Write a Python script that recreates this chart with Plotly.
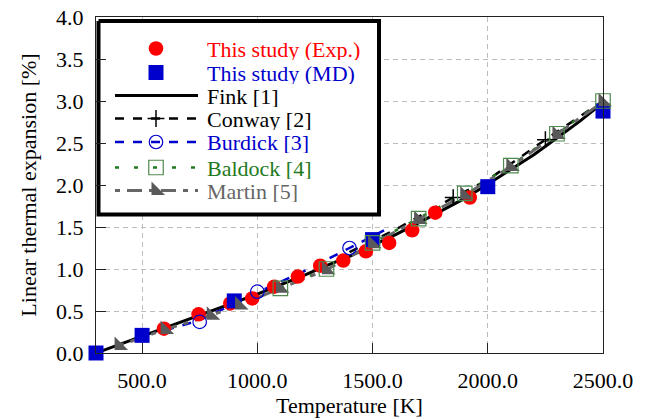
import plotly.graph_objects as go

# ---------------- data ----------------
T_exp = [595, 745, 883, 978, 1073, 1176, 1273, 1373, 1471, 1572, 1672, 1772, 1922]
exp_vals = [0.29, 0.46, 0.59, 0.65, 0.79, 0.91, 1.04, 1.10, 1.21, 1.31, 1.46, 1.67, 1.85]

T_md = [300, 500, 900, 1500, 2000, 2500]
md_vals = [0.00, 0.21, 0.62, 1.35, 1.98, 2.88]

T_fink = [300, 400, 500, 600, 700, 800, 900, 1000, 1100, 1200, 1300, 1400,
          1500, 1600, 1700, 1800, 1900, 2000, 2100, 2200, 2300, 2400, 2500]
fink_vals = [0.00, 0.10, 0.20, 0.30, 0.40, 0.50, 0.60, 0.70, 0.81, 0.92, 1.04, 1.15,
             1.28, 1.41, 1.55, 1.69, 1.84, 2.01, 2.18, 2.36, 2.56, 2.76, 2.98]

T_conway_line = [1400, 1600, 1850, 2000, 2250, 2500]
conway_line = [1.20, 1.47, 1.85, 2.06, 2.54, 3.00]
T_conway_pts = [1850, 2250]
conway_pts = [1.85, 2.54]

T_burdick_line = [600, 750, 1000, 1200, 1400, 1550]
burdick_line = [0.27, 0.39, 0.72, 0.97, 1.25, 1.46]
T_burdick_pts = [750, 1000, 1400]
burdick_pts = [0.37, 0.73, 1.25]

T_baldock = [1100, 1300, 1500, 1700, 1900, 2100, 2300, 2500]
baldock_vals = [0.77, 1.00, 1.31, 1.60, 1.90, 2.23, 2.61, 3.00]

T_martin = [400, 600, 800, 923, 1100, 1300, 1500, 1700, 1900, 2100, 2300, 2500]
martin_vals = [0.09, 0.28, 0.45, 0.57, 0.77, 0.99, 1.30, 1.59, 1.88, 2.22, 2.60, 2.99]

legend_labels = ["This study (Exp.)", "This study (MD)", "Fink [1]", "Conway [2]",
                 "Burdick [3]", "Baldock [4]", "Martin [5]"]

# ---------------- styles ----------------
FONT = "Liberation Serif"
RED = "#ff0000"
BLUE = "#0000cc"
GREEN = "#217a21"
GRAY = "#666666"
TRI = "#595959"

fig = go.Figure()

# lines
fig.add_trace(go.Scatter(x=T_fink, y=fink_vals, mode="lines",
                         line=dict(color="black", width=3)))
fig.add_trace(go.Scatter(x=T_conway_line, y=conway_line, mode="lines",
                         line=dict(color="black", width=2.5, dash="9px,9px")))
fig.add_trace(go.Scatter(x=T_burdick_line, y=burdick_line, mode="lines",
                         line=dict(color=BLUE, width=2.5, dash="9px,9px")))
fig.add_trace(go.Scatter(x=T_baldock, y=baldock_vals, mode="lines",
                         line=dict(color=GREEN, width=2.5, dash="4px,12px")))
fig.add_trace(go.Scatter(x=T_martin, y=martin_vals, mode="lines",
                         line=dict(color=GRAY, width=3, dash="5px,7px,15px,7px")))

# markers
fig.add_trace(go.Scatter(x=T_exp, y=exp_vals, mode="markers", cliponaxis=False,
                         marker=dict(symbol="circle", size=14.5, color=RED)))
fig.add_trace(go.Scatter(x=T_md, y=md_vals, mode="markers", cliponaxis=False,
                         marker=dict(symbol="square", size=15, color=BLUE)))
fig.add_trace(go.Scatter(x=T_burdick_pts, y=burdick_pts, mode="markers", cliponaxis=False,
                         marker=dict(symbol="circle-open", size=13.5, color=BLUE,
                                     line=dict(width=1.2, color=BLUE))))
fig.add_trace(go.Scatter(x=T_conway_pts, y=conway_pts, mode="markers", cliponaxis=False,
                         marker=dict(symbol="cross-thin", size=12,
                                     line=dict(width=1.5, color="black"))))
fig.add_trace(go.Scatter(x=T_martin, y=martin_vals, mode="markers", cliponaxis=False,
                         marker=dict(symbol="triangle-sw", size=15, color=TRI)))
fig.add_trace(go.Scatter(x=T_baldock, y=baldock_vals, mode="markers", cliponaxis=False,
                         marker=dict(symbol="square-open", size=14.5, color="#4f8a4f",
                                     line=dict(width=1.2, color="#4f8a4f"))))

# ---------------- hand-drawn legend box (pixel overlay axes) ----------------
L = dict(x0=98.5, x1=379, y0=21, y1=214.5, lx0=115, lx1=198, mx=156, tx=206,
         rows=[48.5, 72.5, 95.5, 118.5, 142, 167.5, 190.5])
ov = dict(xaxis="x2", yaxis="y2", hoverinfo="skip", cliponaxis=False)

fig.add_trace(go.Scatter(x=[L["x0"], L["x1"], L["x1"], L["x0"], L["x0"]],
                         y=[L["y0"], L["y0"], L["y1"], L["y1"], L["y0"]],
                         mode="lines", fill="toself", fillcolor="white",
                         line=dict(color="black", width=4), **ov))

samples = [
    dict(line=None, marker=dict(symbol="circle", size=14.5, color=RED)),
    dict(line=None, marker=dict(symbol="square", size=15, color=BLUE)),
    dict(line=dict(color="black", width=3), marker=None),
    dict(line=dict(color="black", width=2.5, dash="9px,9px"),
         marker=dict(symbol="cross-thin", size=12, line=dict(width=1.5, color="black"))),
    dict(line=dict(color=BLUE, width=2.5, dash="9px,9px"),
         marker=dict(symbol="circle-open", size=13.5, color=BLUE, line=dict(width=1.2, color=BLUE))),
    dict(line=dict(color=GREEN, width=2.5, dash="4px,15px"),
         marker=dict(symbol="square-open", size=14.5, color="#4f8a4f", line=dict(width=1.2, color="#4f8a4f"))),
    dict(line=dict(color=GRAY, width=3, dash="5px,7px,15px,7px"),
         marker=dict(symbol="triangle-sw", size=15, color=TRI)),
]
text_colors = [RED, BLUE, "black", "black", BLUE, GREEN, GRAY]

annotations = []
for row, s, lab, tc in zip(L["rows"], samples, legend_labels, text_colors):
    if s["line"] is not None:
        fig.add_trace(go.Scatter(x=[L["lx0"], L["lx1"]], y=[row, row], mode="lines",
                                 line=s["line"], **ov))
    if s["marker"] is not None:
        fig.add_trace(go.Scatter(x=[L["mx"]], y=[row], mode="markers",
                                 marker=s["marker"], **ov))
    annotations.append(dict(x=L["tx"], y=row, xref="x2", yref="y2", text=lab,
                            showarrow=False, xanchor="left", yanchor="middle",
                            height=22, valign="middle", borderpad=0,
                            font=dict(family=FONT, size=22, color=tc)))

axis_common = dict(showline=True, linecolor="#222222", linewidth=1, mirror=True,
                   ticks="inside", ticklen=10, tickwidth=1, tickcolor="#222222",
                   showgrid=True, gridcolor="#bdbdbd", gridwidth=1, griddash="5px,4px",
                   zeroline=False, tickformat=".1f", automargin=False,
                   ticklabeloverflow="allow",
                   tickfont=dict(family=FONT, size=22, color="black"))

fig.update_layout(
    width=651, height=420,
    margin=dict(l=96, r=48, t=17, b=67, pad=0, autoexpand=False),
    paper_bgcolor="white", plot_bgcolor="white",
    showlegend=False,
    font=dict(family=FONT, size=22, color="black"),
    xaxis=dict(range=[300, 2500], tick0=500, dtick=500, ticklabelstandoff=8,
               title=dict(text="Temperature [K]", font=dict(family=FONT, size=22), standoff=3),
               **axis_common),
    yaxis=dict(range=[0, 4], tick0=0, dtick=0.5, ticklabelstandoff=7,
               title=dict(text="Linear thermal expansion [%]", font=dict(family=FONT, size=22), standoff=13),
               **axis_common),
    xaxis2=dict(overlaying="x", anchor="y2", range=[96, 603], visible=False, fixedrange=True),
    yaxis2=dict(overlaying="y", anchor="x2", range=[353, 17], visible=False, fixedrange=True),
    annotations=annotations,
)

# remove the browser's default 8px page margin so the 651x420 figure fills the window
fig.write_html("out.html", config={"displayModeBar": False},
               post_script="document.body.style.margin='0px';")
